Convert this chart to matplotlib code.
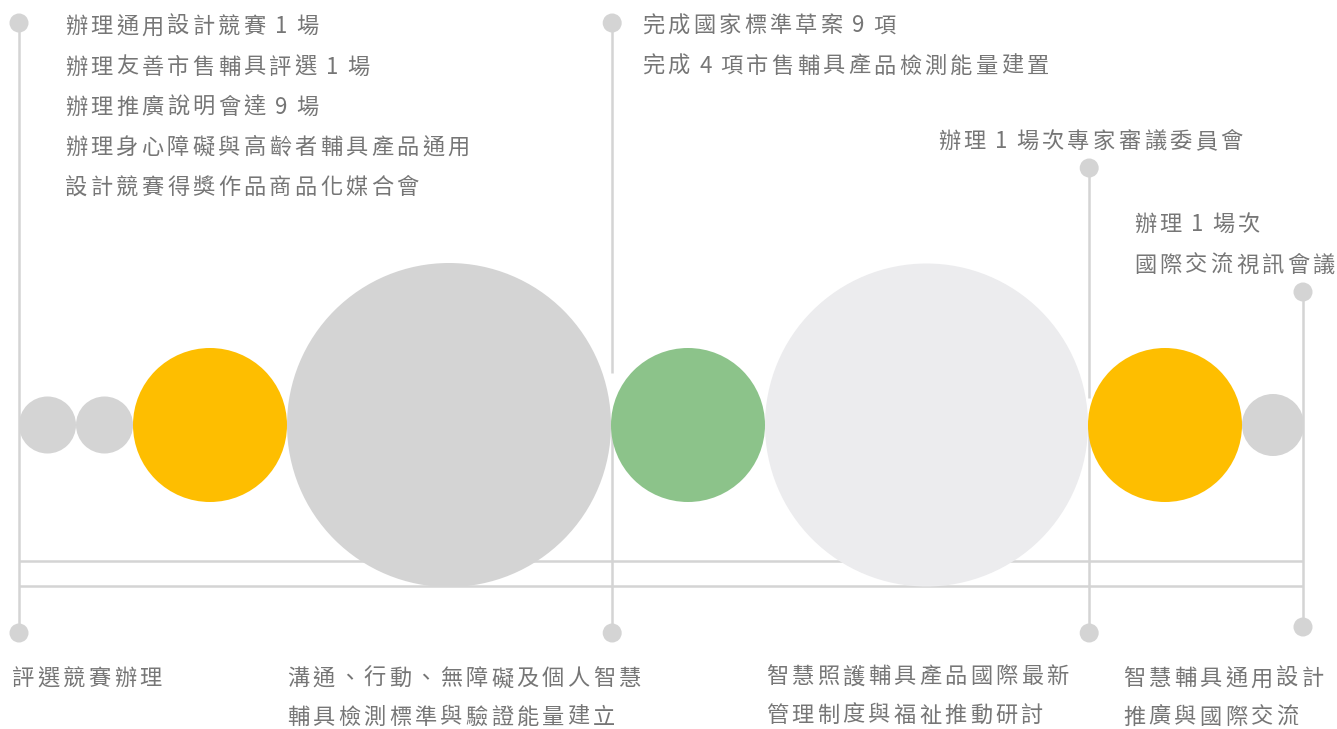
import matplotlib
matplotlib.use("Agg")
import matplotlib.pyplot as plt
from matplotlib.patches import Circle

# ---------------- data ----------------
circle_radius = [28.5, 28.5, 77, 162, 77, 161.5, 77, 31]
circle_color = ["#d4d4d4", "#d4d4d4", "#febe00", "#d4d4d4",
                "#8cc38a", "#ececee", "#febe00", "#d4d4d4"]

group_titles = [
    ["評選競賽辦理"],
    ["溝通、行動、無障礙及個人智慧", "輔具檢測標準與驗證能量建立"],
    ["智慧照護輔具產品國際最新", "管理制度與福祉推動研討"],
    ["智慧輔具通用設計", "推廣與國際交流"],
]
group_notes = [
    ["辦理通用設計競賽 1 場", "辦理友善市售輔具評選 1 場", "辦理推廣說明會達 9 場",
     "辦理身心障礙與高齡者輔具產品通用", "設計競賽得獎作品商品化媒合會"],
    ["完成國家標準草案 9 項", "完成 4 項市售輔具產品檢測能量建置"],
    ["辦理 1 場次專家審議委員會"],
    ["辦理 1 場次", "國際交流視訊會議"],
]

# ---------------- layout ----------------
W, H = 1337, 729
x0, cy = 19, 425
line_color = "#d4d4d4"
text_color = "#767676"
FONT = ["Noto Sans CJK TC", "DejaVu Sans"]
FS = 16
dot_r = 9.5

# boundaries index (after which circle) where vertical lines are drawn
line_after = [-1, 3, 5, 7]
line_top = [23, 23, 168, 292]
line_top_end = [633, 373, 398, 627]
line_bot_start = [633, 425, 425, 627]
line_bottom = [633, 633, 633, 627]

notes_pos = [(65, 25), (642, 24), (938, 140), (1134, 223)]
title_pos = [(12, 677), (287, 677), (766, 675), (1123, 677)]
notes_gap = 40
title_gap = 38.5

fig = plt.figure(figsize=(W / 100, H / 100), dpi=100)
ax = fig.add_axes([0, 0, 1, 1])
ax.set_xlim(0, W)
ax.set_ylim(H, 0)
ax.axis("off")

# circles packed side by side
edges = [x0]
for r in circle_radius:
    edges.append(edges[-1] + 2 * r)
for i, (r, c) in enumerate(zip(circle_radius, circle_color)):
    cx = edges[i] + r
    ax.add_patch(Circle((cx, cy), r, facecolor=c, edgecolor="none", zorder=3))

# horizontal rails
for yy in (561, 586):
    ax.plot([edges[0], edges[-1] - 1], [yy, yy], color=line_color, lw=1.8,
            solid_capstyle="butt", zorder=1)

# vertical lines + dots
for k, idx in enumerate(line_after):
    if idx < 0:
        lx = edges[0]
    elif idx == len(circle_radius) - 1:
        lx = edges[-1] - 1
    else:
        lx = edges[idx + 1] + 1.2
    ax.plot([lx, lx], [line_top[k], line_top_end[k]], color=line_color, lw=1.8,
            solid_capstyle="butt", zorder=1)
    ax.plot([lx, lx], [line_bot_start[k], line_bottom[k]], color=line_color, lw=1.8,
            solid_capstyle="butt", zorder=1)
    ax.add_patch(Circle((lx, line_top[k]), dot_r, facecolor=line_color,
                        edgecolor="none", zorder=2))
    ax.add_patch(Circle((lx, line_bottom[k]), dot_r, facecolor=line_color,
                        edgecolor="none", zorder=2))


def advance(ch):
    if ch == " ":
        return 6.0
    if ch.isascii():
        return 15.5
    return 25.5


def spaced_text(x, yc, s):
    for ch in s:
        if ch != " ":
            ax.text(x, yc + 8.2, ch, fontsize=FS, family=FONT, color=text_color,
                    ha="left", va="baseline", zorder=5)
        x += advance(ch)


for (px, py), lines in zip(notes_pos, group_notes):
    for j, s in enumerate(lines):
        spaced_text(px, py + j * notes_gap + (j * 0.3 if len(lines) > 1 else 0), s)

for (px, py), lines in zip(title_pos, group_titles):
    for j, s in enumerate(lines):
        spaced_text(px, py + j * title_gap, s)

fig.savefig("out.png", dpi=100, facecolor="white")
